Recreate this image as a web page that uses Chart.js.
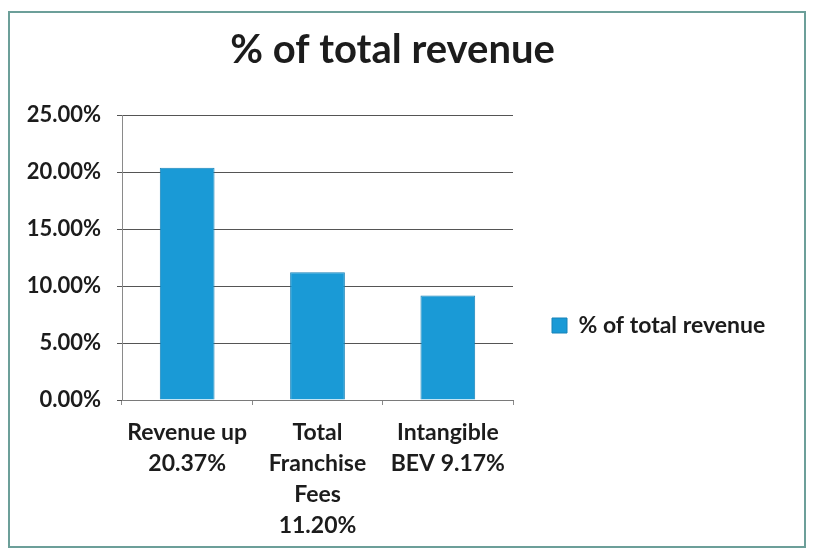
<!DOCTYPE html>
<html>
<head>
<meta charset="utf-8">
<script src="https://cdn.jsdelivr.net/npm/chart.js@4.4.1/dist/chart.umd.min.js"></script>
<style>
  html, body { margin: 0; padding: 0; background: #ffffff; }
  body { width: 814px; height: 559px; position: relative; overflow: hidden; }
  #frame {
    position: absolute; left: 8px; top: 11px; width: 794px; height: 533px;
    border: 2px solid #6c9f99; background: #ffffff;
  }
  #frame canvas { display: block; }
</style>
</head>
<body>
<div id="frame"><canvas id="chart" width="794" height="533"></canvas></div>
<script>
// Category labels (multi-line) and the share of total revenue for each item
const categories = [
  ["Revenue up", "20.37%"],
  ["Total", "Franchise", "Fees", "11.20%"],
  ["Intangible", "BEV 9.17%"]
];
const shareOfRevenue = [20.37, 11.20, 9.17];
const seriesName = "% of total revenue";
const yTicks = [0, 5, 10, 15, 20, 25];

const textColor = "#1c1c1c";
const barColor = "#1a9ad6";
const barEdge = "#1782b8";
const fontFamily = "Lato, 'Open Sans', sans-serif";

const CANVAS_W = 794;
const PLOT_RIGHT = 503;     // right edge of the plotting area
const LEGEND_GAP = 39;      // space between plot and legend swatch
const LEGEND_BOX = 15;
const LEGEND_SIZE = 23;

function drawChart() {
  // legend width = gap + swatch + half font + text + 10 (Chart.js fixed margin);
  // pad the right side so the plot ends at PLOT_RIGHT
  const ctx = document.getElementById("chart").getContext("2d");
  ctx.font = "bold " + LEGEND_SIZE + "px " + fontFamily;
  const textW = ctx.measureText(seriesName).width;
  const legendW = LEGEND_GAP + LEGEND_BOX + LEGEND_SIZE / 2 + textW + 10;
  const padRight = Math.max(0, CANVAS_W - PLOT_RIGHT - legendW);

  new Chart(ctx, {
    type: "bar",
    data: {
      labels: categories,
      datasets: [{
        label: seriesName,
        data: shareOfRevenue,
        backgroundColor: barColor,
        borderColor: barEdge,
        borderWidth: 1,
        barPercentage: 0.42,
        categoryPercentage: 1.0
      }]
    },
    options: {
      responsive: false,
      animation: false,
      devicePixelRatio: 1,
      layout: { padding: { left: 0, right: padRight, top: 0, bottom: 0 } },
      plugins: {
        title: {
          display: true,
          text: seriesName,
          color: textColor,
          font: { family: fontFamily, size: 40, weight: "bold", lineHeight: 1.2 },
          padding: { top: 13, bottom: 41 }
        },
        legend: {
          position: "right",
          maxWidth: 400,
          title: {
            display: true,
            text: " ",
            font: { family: fontFamily, size: 10 },
            padding: { top: 80, bottom: 0 }
          },
          labels: {
            color: textColor,
            font: { family: fontFamily, size: LEGEND_SIZE, weight: "bold" },
            boxWidth: LEGEND_BOX,
            boxHeight: LEGEND_BOX,
            padding: LEGEND_GAP
          }
        },
        tooltip: { enabled: false }
      },
      scales: {
        x: {
          grid: {
            display: true, offset: true, drawOnChartArea: false,
            drawTicks: true, tickLength: 5, color: "#8a8a8a"
          },
          border: { color: "#7a7a7a" },
          ticks: {
            color: textColor,
            font: { family: fontFamily, size: 23, weight: "bold", lineHeight: 1.35 },
            maxRotation: 0,
            autoSkip: false,
            padding: 12
          },
          afterFit(scale) { scale.height = 146; }
        },
        y: {
          min: 0,
          max: 25,
          afterBuildTicks(scale) { scale.ticks = yTicks.map(v => ({ value: v })); },
          grid: { color: "#555555", lineWidth: 1, tickLength: 5 },
          border: { color: "#8a8a8a" },
          ticks: {
            color: textColor,
            font: { family: fontFamily, size: 22, weight: "bold" },
            padding: 16,
            callback: v => Number(v).toFixed(2) + "%"
          },
          afterFit(scale) { scale.width = 112; }
        }
      }
    }
  });
}

if (document.fonts && document.fonts.load) {
  Promise.all([
    document.fonts.load("bold 23px Lato"),
    document.fonts.load("bold 40px Lato")
  ]).then(drawChart, drawChart);
} else {
  drawChart();
}
</script>
</body>
</html>
